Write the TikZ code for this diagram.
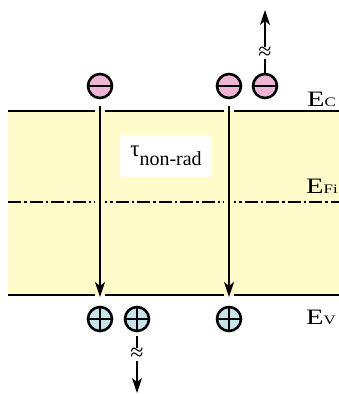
\documentclass[tikz,border=0pt]{standalone}
\usepackage{fontspec}
\setmainfont{Liberation Serif}
\usetikzlibrary{positioning,arrows.meta}

\definecolor{bandfill}{RGB}{255,251,202}
\definecolor{elecfill}{RGB}{238,180,214}
\definecolor{holefill}{RGB}{198,228,234}
\newcommand{\levelname}[1]{\scalebox{1.3}[1]{E}\scalebox{1.3}[1]{\fontsize{13}{13}\selectfont #1}}

\begin{document}
\begin{tikzpicture}[
  x=1pt, y=-1pt,
  carrier/.style={circle, draw, line width=2.6pt, minimum size=24pt,
                  inner sep=0pt, outer sep=0pt},
  elec/.style={carrier, fill=elecfill, path picture={
      \draw[line width=2.8pt] (path picture bounding box.west) -- (path picture bounding box.east);}},
  hole/.style={carrier, fill=holefill, path picture={
      \draw[line width=2.6pt] (path picture bounding box.west) -- (path picture bounding box.east);
      \draw[line width=2.6pt] (path picture bounding box.north) -- (path picture bounding box.south);}},
  level/.style={line width=1.8pt},
  fermi/.style={line width=1.8pt, dash pattern=on 13pt off 3pt on 2.5pt off 3pt},
  flow/.style={line width=1.3pt, -{Stealth[length=15pt,width=10pt,inset=4pt]}},
  brk/.style={fill=white, inner sep=0pt, font=\fontsize{24}{24}\selectfont},
  lbl/.style={inner sep=0pt, anchor=base west, font=\fontsize{22}{22}\selectfont}
]
  \useasboundingbox (0,0) rectangle (339,394);

  % band and levels
  \fill[bandfill] (8,111) rectangle (339,295);
  \draw[level] (8,111) -- (339,111);
  \draw[level] (8,295) -- (339,295);
  \draw[fermi] (8,202) -- (339,202);
  \foreach \gx in {100,229}
    \foreach \gy in {111,202,295}
      \fill[bandfill] (\gx-5,\gy-1.4) rectangle (\gx+5,\gy+1.4);

  \node[lbl] (ec)  at (307,106) {\levelname{C}};
  \node[lbl] (efi) at (306,193) {\levelname{Fi}};
  \node[lbl] (ev)  at (306,324) {\levelname{V}};

  \node[fill=white, minimum width=92pt, minimum height=42pt, inner sep=0pt] (tau) at (166,156)
    {\raisebox{4pt}{\fontsize{23}{23}\selectfont τ}\raisebox{-5pt}{\fontsize{20}{20}\selectfont non-rad}};

  % carriers
  \node[elec] (e1) at (100,86) {};
  \node[elec] (e2) at (229,86) {};
  \node[elec, right=12pt of e2] (e3) {};
  \node[hole] (h1) at (100,319) {};
  \node[hole, right=13pt of h1] (h2) {};
  \node[hole] (h3) at (229,319) {};

  \coordinate (top) at (e3 |- 0,10);
  \coordinate (bot) at (h2 |- 0,393);

  \draw[flow, shorten <=8pt, shorten >=10pt] (e1) -- (h1);
  \draw[flow, shorten <=8pt, shorten >=10pt] (e2) -- (h3);
  \draw[flow] (e3) -- node[brk, pos=0.33] {≈} (top);
  \draw[flow, shorten <=5pt] (h2) -- node[brk, pos=0.38] {≈} (bot);
\end{tikzpicture}
\end{document}
